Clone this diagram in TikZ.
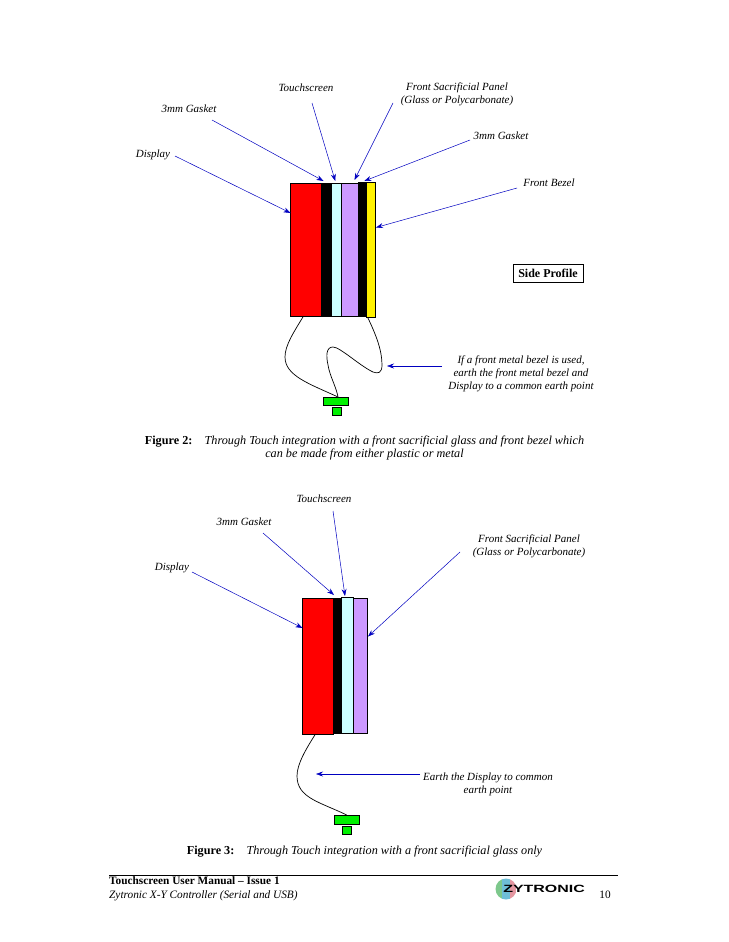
\documentclass[tikz,border=0pt]{standalone}
\usepackage{fontspec}
\setmainfont{Liberation Serif}
\newfontfamily\logofont{Liberation Sans}
\usetikzlibrary{arrows.meta, positioning}
\definecolor{arrowblue}{RGB}{0, 0, 192}
\definecolor{screencyan}{RGB}{204, 255, 255}
\definecolor{panelpurple}{RGB}{204, 153, 255}
\definecolor{earthgreen}{RGB}{0, 240, 0}
\definecolor{logogreen}{RGB}{125, 200, 140}
\definecolor{logoblue}{RGB}{110, 190, 215}
\definecolor{logopink}{RGB}{228, 150, 160}

\begin{document}
\begin{tikzpicture}[
  x=1pt, y=-1pt,
  layer/.style={draw, line width=0.8pt, inner sep=0pt, outer sep=0pt, anchor=north west},
  lbl/.style={inner sep=0pt, align=center, yshift=-1pt, font=\fontsize{11}{13.3}\selectfont\itshape},
  caption/.style={inner sep=0pt, align=center, font=\fontsize{12.2}{13.5}\selectfont},
  footer/.style={inner sep=0pt, font=\fontsize{11.3}{14}\selectfont},
  pointer/.style={draw=arrowblue, line width=0.5pt, -{Stealth[length=7pt, width=5pt]}},
  wire/.style={draw, line width=0.7pt}
]
  \useasboundingbox (0,0) rectangle (728,942);

  % figure 2
  \node[layer, fill=red, minimum width=31pt, minimum height=133pt] (redA) at (290.5,183) {};
  \node[layer, fill=black, minimum width=10pt, minimum height=133pt] (gasketA) at (321.5,183) {};
  \node[layer, fill=screencyan, minimum width=10.5pt, minimum height=133pt] (screenA) at (331,183) {};
  \node[layer, fill=panelpurple, minimum width=17pt, minimum height=133pt] (panelA) at (341.5,183) {};
  \node[layer, fill=black, minimum width=7.5pt, minimum height=134pt] (gasketB) at (358.5,182.5) {};
  \node[layer, fill=yellow, minimum width=9.5pt, minimum height=135pt] (bezelA) at (366,182.5) {};
  \node[layer, fill=earthgreen, minimum width=25pt, minimum height=8pt] (barA) at (323.5,397) {};
  \node[layer, fill=earthgreen, minimum width=8.5pt, minimum height=8.5pt] (stubA) at (332.5,407) {};

  \node[lbl] (touchA) at (306,87) {Touchscreen};
  \node[lbl] (frontA) at (457,93.5) {Front Sacrificial Panel\\(Glass or Polycarbonate)};
  \node[lbl] (gasketLblA) at (189,108) {3mm Gasket};
  \node[lbl] (gasketLblB) at (501,135) {3mm Gasket};
  \node[lbl] (displayA) at (153,154) {Display};
  \node[lbl] (bezelLbl) at (549,182) {Front Bezel};
  \node[lbl] (noteA) at (521,373) {If a front metal bezel is used,\\earth the front metal bezel and\\Display to a common earth point};
  \node[draw, line width=0.8pt, minimum width=70pt, minimum height=18pt, inner sep=0pt, font=\fontsize{12}{13}\selectfont\bfseries] (sideBox) at (548,273) {Side Profile};

  \draw[pointer] ([shift={(22,1)}]displayA.center) -- ([shift={(0,30)}]redA.north west);
  \draw[pointer] ([shift={(23,11)}]gasketLblA.center) -- ([shift={(2,-2)}]gasketA.north west);
  \draw[pointer] ([shift={(6,15)}]touchA.center) -- ([shift={(-1,-2)}]screenA.north);
  \draw[pointer] ([shift={(-64,8.5)}]frontA.center) -- ([shift={(4.5,-3)}]panelA.north);
  \draw[pointer] ([shift={(-31,4)}]gasketLblB.center) -- ([shift={(2,-1.5)}]gasketB.north);
  \draw[pointer] ([shift={(-32,5)}]bezelLbl.center) -- ([shift={(0.5,-22.5)}]bezelA.east);
  \draw[pointer] ([shift={(-79,-8)}]noteA.center) -- ++(-55,0);

  \draw[wire] ([xshift=13pt]redA.south west) .. controls (294,332) and (285,345) .. (285,357)
    .. controls (285,376) and (310,384) .. ([xshift=2pt]barA.north);
  \draw[wire] ([xshift=-3pt]bezelA.south) .. controls (376,335) and (382,350) .. (382,365)
    .. controls (382,373) and (378,374) .. (373,372)
    .. controls (360,366) and (340,347) .. (333,347)
    .. controls (326,347) and (326,356) .. (328,365)
    .. controls (330,377) and (336,386) .. ([xshift=2pt]barA.north);

  \node[caption] (captionA) at (364.5,448) {\textbf{Figure 2:}\quad\textit{Through Touch integration with a front sacrificial glass and front bezel which}\\\textit{can be made from either plastic or metal}};

  % figure 3
  \node[layer, fill=red, minimum width=31pt, minimum height=136pt] (redB) at (302.5,598) {};
  \node[layer, fill=black, minimum width=8pt, minimum height=135.5pt] (gasketC) at (333.5,598) {};
  \node[layer, fill=screencyan, minimum width=12pt, minimum height=136pt] (screenB) at (341,597) {};
  \node[layer, fill=panelpurple, minimum width=14.5pt, minimum height=135pt] (panelB) at (353,598) {};
  \node[layer, fill=earthgreen, minimum width=24.5pt, minimum height=9pt] (barB) at (334.5,815) {};
  \node[layer, fill=earthgreen, minimum width=8.5pt, minimum height=8pt] (stubB) at (342.5,826) {};

  \node[lbl] (touchB) at (324,498) {Touchscreen};
  \node[lbl] (gasketLblC) at (244,521) {3mm Gasket};
  \node[lbl] (frontB) at (529,545) {Front Sacrificial Panel\\(Glass or Polycarbonate)};
  \node[lbl] (displayB) at (172,567) {Display};
  \node[lbl] (noteB) at (488,783.5) {Earth the Display to common\\earth point};

  \draw[pointer] ([shift={(20,4)}]displayB.center) -- ([shift={(0,30)}]redB.north west);
  \draw[pointer] ([shift={(19,11)}]gasketLblC.center) -- ([shift={(0.5,-3)}]gasketC.north west);
  \draw[pointer] ([shift={(9,12)}]touchB.center) -- ([shift={(-2,-1)}]screenB.north);
  \draw[pointer] ([shift={(-69,6)}]frontB.center) -- ([shift={(0.5,-29)}]panelB.east);
  \draw[pointer] ([shift={(-68,-10.5)}]noteB.center) -- ++(-104,0);

  \draw[wire] ([xshift=13pt]redB.south west) .. controls (306,749) and (297,764) .. (297,776)
    .. controls (297,798) and (320,802) .. ([xshift=0pt]barB.north);

  \node[caption] (captionB) at (364.5,851.5) {\textbf{Figure 3:}\quad\textit{Through Touch integration with a front sacrificial glass only}};

  % page footer
  \coordinate (ruleL) at (109,875);
  \coordinate (ruleR) at (618,875);
  \draw[line width=0.5pt] (ruleL) -- (ruleR);
  \node[footer, anchor=west, align=left] (footerA) at (109,889) {\textbf{Touchscreen User Manual -- Issue 1}\\\textit{Zytronic X-Y Controller (Serial and USB)}};
  \node[footer] (pageNo) at (605,895) {10};

  % logo
  \node[circle, inner sep=0pt, minimum size=21pt] (logoDisc) at (506,889) {};
  \begin{scope}
    \clip (logoDisc.center) circle (10.5);
    \fill[logogreen] (495,878) rectangle (502,900);
    \fill[logoblue] (502,878) rectangle (510,900);
    \fill[logopink] (510,878) rectangle (517,900);
  \end{scope}
  \node[inner sep=0pt, anchor=west, xscale=1.52, font=\logofont\bfseries\fontsize{10.5}{12}\selectfont] (logoText) at (503,888.5) {ZYTRONIC};
\end{tikzpicture}
\end{document}
